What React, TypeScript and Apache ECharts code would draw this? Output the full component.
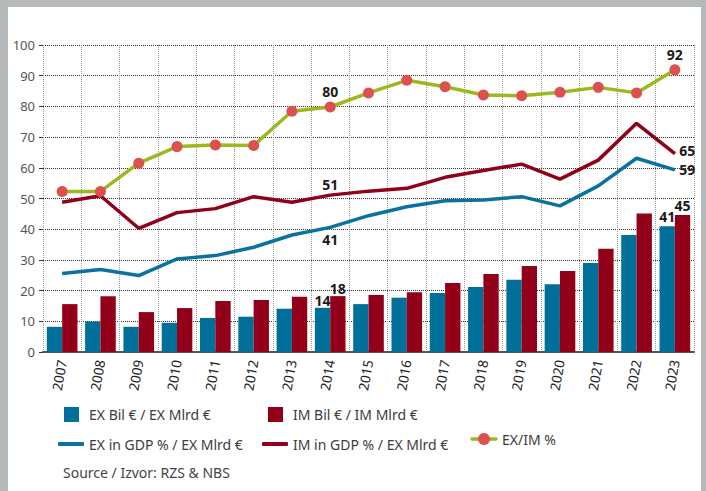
import React, { useEffect, useRef } from "react";
import * as echarts from "echarts";

const years = ["2007", "2008", "2009", "2010", "2011", "2012", "2013", "2014", "2015", "2016", "2017", "2018", "2019", "2020", "2021", "2022", "2023"];
const exBars = [8.2, 9.9, 8.2, 9.5, 11.1, 11.5, 14.1, 14.4, 15.6, 17.7, 19.2, 21.2, 23.5, 22.1, 29.0, 38.1, 41.0];
const imBars = [15.6, 18.2, 13.0, 14.3, 16.6, 16.9, 18.0, 18.2, 18.6, 19.5, 22.5, 25.4, 28.0, 26.4, 33.6, 45.1, 44.6];
const exGdp = [25.6, 26.9, 24.9, 30.3, 31.4, 34.1, 38.1, 40.6, 44.4, 47.3, 49.3, 49.5, 50.6, 47.6, 54.1, 63.1, 59.3];
const imGdp = [48.8, 50.9, 40.3, 45.4, 46.7, 50.6, 48.8, 51.1, 52.4, 53.3, 56.9, 59.1, 61.2, 56.3, 62.5, 74.5, 64.6];
const exIm = [52.3, 52.3, 61.5, 66.9, 67.4, 67.3, 78.4, 79.8, 84.4, 88.5, 86.4, 83.7, 83.5, 84.6, 86.2, 84.4, 91.9];

const names = {
  exBar: "EX Bil € / EX Mlrd €",
  imBar: "IM Bil € / IM Mlrd €",
  exLine: "EX in GDP % / EX Mlrd €",
  imLine: "IM in GDP % / EX Mlrd €",
  ratio: "EX/IM %",
};

const FONT = "'Noto Sans', 'Open Sans', sans-serif";
const GREEN = "#9bb81f";
const DOT = "#dc5150";
const labelBase = {
  show: true,
  color: "#1a1a1a",
  fontWeight: "bold",
  fontSize: 14,
  fontFamily: FONT,
  formatter: (p: any) => String(Math.round(p.value)),
};

function withLabels(values: number[], labels: Record<number, any>, extra: Record<number, any> = {}) {
  return values.map((v, i) =>
    labels[i] ? { value: v, ...(extra[i] || {}), label: { ...labelBase, ...labels[i] } } : v
  );
}

export default function App() {
  const ref = useRef<HTMLDivElement>(null);
  useEffect(() => {
    if (!ref.current) return;
    const chart = echarts.init(ref.current, null, { renderer: "svg" });
    const legendText = { color: "#3c3c3c", fontSize: 14, fontFamily: FONT };
    const lineMark = { symbol: "circle", symbolSize: 1 };
    chart.setOption({
      animation: false,
      backgroundColor: "#b5b9b9",
      textStyle: { fontFamily: FONT },
      graphic: [
        { type: "rect", left: 8, top: 7, shape: { width: 693, height: 484 }, style: { fill: "#ffffff" }, z: -10 },
        { type: "text", left: 63, top: 465, style: { text: "Source / Izvor: RZS & NBS", fill: "#444", fontSize: 14, fontFamily: FONT } },
        { type: "line", shape: { x1: 472, y1: 439, x2: 496, y2: 439 }, style: { stroke: GREEN, lineWidth: 3.5, lineCap: "round" } },
        { type: "circle", shape: { cx: 484, cy: 439, r: 6 }, style: { fill: DOT } },
        { type: "text", x: 502, y: 439, style: { text: names.ratio, fill: "#3c3c3c", fontSize: 14, fontFamily: FONT, verticalAlign: "middle" } },
      ],
      grid: { left: 43, right: 12, top: 45, bottom: 139 },
      legend: [
        { data: [names.exBar], left: 64, top: 407, padding: 0, icon: "rect", itemWidth: 15, itemHeight: 15, textStyle: { ...legendText, padding: [0, 0, 0, 5] } },
        { data: [names.imBar], left: 268, top: 407, padding: 0, icon: "rect", itemWidth: 15, itemHeight: 15, textStyle: { ...legendText, padding: [0, 0, 0, 5] } },
        { data: [names.exLine], left: 58, top: 437, padding: 0, icon: "roundRect", itemWidth: 26, itemHeight: 4, textStyle: legendText },
        { data: [names.imLine], left: 262, top: 437, padding: 0, icon: "roundRect", itemWidth: 26, itemHeight: 4, textStyle: legendText },
      ],
      xAxis: {
        type: "category",
        data: years,
        boundaryGap: true,
        axisLine: { show: true, lineStyle: { color: "#555", width: 2 } },
        axisTick: { show: false },
        axisLabel: { rotate: 80, color: "#222", fontSize: 13.5, margin: 8, fontFamily: FONT },
        splitLine: { show: true, lineStyle: { type: "dotted", color: "#9a9a9a", width: 1 } },
      },
      yAxis: {
        type: "value",
        min: 0,
        max: 100,
        interval: 10,
        axisLine: { show: false },
        axisTick: { show: true, length: 4, lineStyle: { color: "#333" } },
        axisLabel: { color: "#555", fontSize: 13, margin: 8, fontFamily: FONT },
        splitLine: { show: true, lineStyle: { type: "dotted", color: "#333", width: 1 } },
      },
      series: [
        {
          name: names.exBar,
          type: "bar",
          barWidth: "40%",
          barGap: "0%",
          itemStyle: { color: "#00709b" },
          data: withLabels(exBars, { 7: { position: "top", distance: 0 }, 16: { position: "top", distance: 3 } }),
          z: 2,
        },
        {
          name: names.imBar,
          type: "bar",
          barWidth: "40%",
          barGap: "0%",
          itemStyle: { color: "#910018" },
          data: withLabels(imBars, { 7: { position: "top", distance: 1 }, 16: { position: "top", distance: 3 } }),
          z: 2,
        },
        {
          name: names.exLine,
          type: "line",
          symbol: "none",
          lineStyle: { color: "#0b72a0", width: 3.5 },
          itemStyle: { color: "#0b72a0" },
          data: withLabels(
            exGdp,
            { 7: { position: "bottom", distance: 5 }, 16: { position: "right", distance: 4 } },
            { 7: lineMark, 16: lineMark }
          ),
          z: 3,
        },
        {
          name: names.imLine,
          type: "line",
          symbol: "none",
          lineStyle: { color: "#910018", width: 3.5 },
          itemStyle: { color: "#910018" },
          data: withLabels(
            imGdp,
            { 7: { position: "top", distance: 3 }, 16: { position: "right", distance: 4, offset: [0, -3] } },
            { 7: lineMark, 16: lineMark }
          ),
          z: 3,
        },
        {
          name: names.ratio,
          type: "line",
          symbol: "circle",
          symbolSize: 11,
          lineStyle: { color: GREEN, width: 3.5 },
          itemStyle: { color: DOT },
          data: withLabels(exIm, { 7: { position: "top", distance: 3 }, 16: { position: "top", distance: 3 } }),
          z: 4,
        },
      ],
    });
    return () => chart.dispose();
  }, []);
  return <div ref={ref} style={{ position: "fixed", left: 0, top: 0, width: 706, height: 491 }} />;
}
